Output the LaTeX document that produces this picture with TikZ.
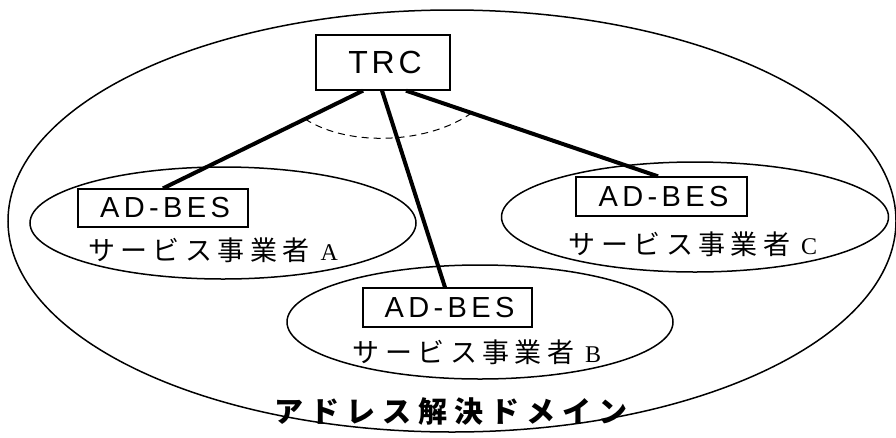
\documentclass[tikz,border=0pt]{standalone}
\usepackage{fontspec}
\setmainfont{Liberation Sans}
\newfontfamily\cjkfont{Noto Sans CJK JP}[LetterSpace=20]
\newfontfamily\cjktitle{Noto Sans CJK JP}[LetterSpace=24]
\newfontfamily\latspaced{Liberation Sans}[LetterSpace=15]
\newfontfamily\trcfont{Liberation Sans}[LetterSpace=12]
\newfontfamily\serfont{Liberation Serif}
\usetikzlibrary{shapes.geometric,calc}
\tikzset{
  domellipse/.style={ellipse, draw, line width=1.5pt, inner sep=0pt},
  besbox/.style={rectangle, draw, line width=1.3pt, inner sep=0pt, font=\latspaced\fontsize{29}{29}\selectfont},
  linkline/.style={line width=4pt},
  sptext/.style={inner sep=0pt, font=\cjkfont\fontsize{27}{27}\selectfont},
}
\newcommand{\splat}[1]{\hspace{11pt}{\serfont\fontsize{24}{24}\selectfont #1}}
\begin{document}
\begin{tikzpicture}[x=1pt,y=-1pt]
\useasboundingbox (0,0) rectangle (896,437);
% outer domain
\node[domellipse, minimum width=888pt, minimum height=422pt] (dom) at (452,221) {};
% service provider ellipses
\node[domellipse, minimum width=386pt, minimum height=112pt] (ea) at (223,223) {};
\node[domellipse, minimum width=386pt, minimum height=114pt] (eb) at (480,322) {};
\node[domellipse, minimum width=387pt, minimum height=110pt] (ec) at (695,217) {};
% TRC
\node[rectangle, draw, line width=1.3pt, minimum width=134pt, minimum height=55pt, inner sep=0pt,
      font=\trcfont\fontsize{32}{32}\selectfont] (trc) at (383,62.5) {\hspace{4pt}TRC};
% AD-BES boxes
\node[besbox, minimum width=170pt, minimum height=38pt] (ba) at (163,208) {\hspace{4pt}AD-BES};
\node[besbox, minimum width=169pt, minimum height=39pt] (bb) at (447.5,307.5) {\hspace{4pt}AD-BES};
\node[besbox, minimum width=171pt, minimum height=39pt] (bc) at (661.5,196.5) {\hspace{4pt}AD-BES};
% labels
\node[sptext] (la) at (213,250) {サービス事業者\splat{A}};
\node[sptext] (lb) at (477,352) {サービス事業者\splat{B}};
\node[sptext] (lc) at (693,244) {サービス事業者\splat{C}};
\node[inner sep=0pt, font=\cjktitle\bfseries\fontsize{29}{29}\selectfont] (title) at (451,412) {アドレス解決ドメイン};
% links
\coordinate (sa) at ([xshift=-20pt]trc.south);
\coordinate (sb) at ([xshift=-1pt]trc.south);
\coordinate (sc) at ([xshift=23pt]trc.south);
\coordinate (ta) at (ba.north);
\coordinate (tb) at ([xshift=-2.5pt]bb.north);
\coordinate (tc) at ([xshift=-3.5pt]bc.north);
\draw[linkline] (sa) -- (ta);
\draw[linkline] (sb) -- (tb);
\draw[linkline] (sc) -- (tc);
% dashed arc
\coordinate (da) at ($(sa)!0.29!(ta)$);
\coordinate (dc) at ($(sc)!0.26!(tc)$);
\draw[line width=1pt, dash pattern=on 7pt off 5pt] (da) .. controls (350,148) and (430,143) .. (dc);
\end{tikzpicture}
\end{document}
